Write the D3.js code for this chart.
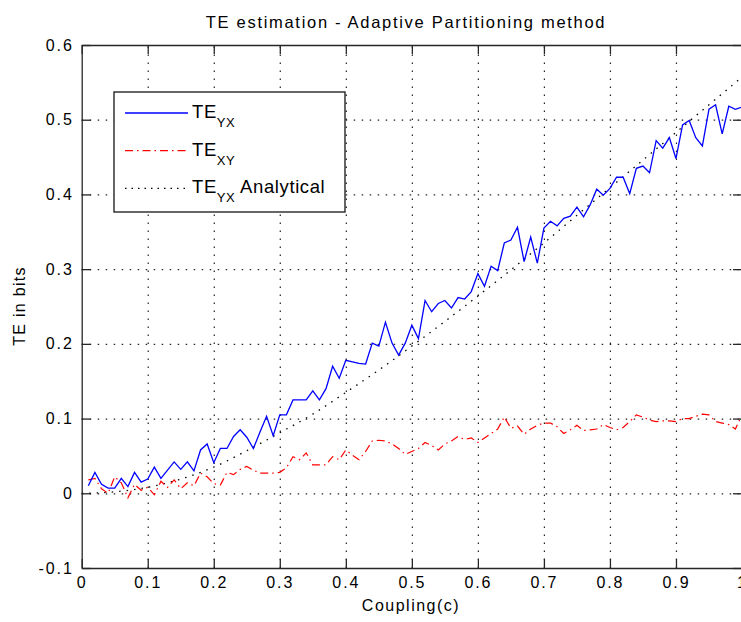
<!DOCTYPE html>
<html>
<head>
<meta charset="utf-8">
<script src="https://cdn.jsdelivr.net/npm/d3@7"></script>
<style>
  body { margin: 0; background: #fff; }
  svg { display: block; font-family: "Liberation Sans", Arial, sans-serif; }
  .tick text { font-size: 16px; letter-spacing: 1.9px; fill: #000; }
  .axis path, .axis line { stroke: #262626; stroke-width: 1.3; }
  .grid line { stroke: #222; stroke-width: 1.2; stroke-dasharray: 1.5 6.5; }
  .grid path { display: none; }
</style>
</head>
<body>
<script>
// data
const coupling = [0.01,0.02,0.03,0.04,0.05,0.06,0.07,0.08,0.09,0.10,
  0.11,0.12,0.13,0.14,0.15,0.16,0.17,0.18,0.19,0.20,
  0.21,0.22,0.23,0.24,0.25,0.26,0.27,0.28,0.29,0.30,
  0.31,0.32,0.33,0.34,0.35,0.36,0.37,0.38,0.39,0.40,
  0.41,0.42,0.43,0.44,0.45,0.46,0.47,0.48,0.49,0.50,
  0.51,0.52,0.53,0.54,0.55,0.56,0.57,0.58,0.59,0.60,
  0.61,0.62,0.63,0.64,0.65,0.66,0.67,0.68,0.69,0.70,
  0.71,0.72,0.73,0.74,0.75,0.76,0.77,0.78,0.79,0.80,
  0.81,0.82,0.83,0.84,0.85,0.86,0.87,0.88,0.89,0.90,
  0.91,0.92,0.93,0.94,0.95,0.96,0.97,0.98,0.99,1.00];

const teYX = [0.010,0.028,0.012,0.007,0.007,0.020,0.009,0.028,0.015,0.019,
  0.035,0.020,0.031,0.042,0.032,0.042,0.030,0.058,0.066,0.041,
  0.060,0.060,0.076,0.085,0.075,0.060,0.082,0.103,0.077,0.105,
  0.105,0.125,0.125,0.125,0.137,0.125,0.140,0.170,0.154,0.178,
  0.176,0.174,0.173,0.201,0.197,0.229,0.201,0.185,0.201,0.225,
  0.207,0.258,0.243,0.254,0.258,0.248,0.262,0.260,0.270,0.294,
  0.277,0.304,0.298,0.335,0.339,0.356,0.310,0.343,0.308,0.355,
  0.364,0.358,0.368,0.371,0.383,0.370,0.386,0.407,0.399,0.408,
  0.423,0.423,0.401,0.435,0.438,0.429,0.472,0.462,0.476,0.448,
  0.493,0.499,0.476,0.465,0.514,0.520,0.481,0.518,0.514,0.517];

const teXY = [0.018,0.020,0.006,0.000,0.022,0.014,-0.006,0.012,0.004,0.008,
  -0.002,0.016,0.008,0.018,0.006,0.014,0.010,0.027,0.022,0.013,
  0.011,0.028,0.025,0.032,0.036,0.031,0.027,0.027,0.027,0.028,
  0.034,0.049,0.045,0.054,0.038,0.038,0.038,0.049,0.045,0.058,
  0.051,0.045,0.056,0.070,0.071,0.070,0.066,0.060,0.052,0.056,
  0.060,0.068,0.064,0.058,0.066,0.070,0.076,0.072,0.074,0.068,
  0.074,0.080,0.086,0.102,0.087,0.090,0.079,0.086,0.091,0.094,
  0.094,0.089,0.080,0.085,0.091,0.084,0.085,0.086,0.092,0.088,
  0.085,0.088,0.096,0.105,0.102,0.098,0.096,0.097,0.097,0.096,
  0.100,0.100,0.103,0.106,0.105,0.096,0.094,0.092,0.086,0.105];

const analyticC = [0,0.05,0.10,0.15,0.20,0.25,0.30,0.35,0.40,0.45,0.50,
  0.55,0.60,0.65,0.70,0.75,0.80,0.85,0.90,0.95,1.00];
const analyticTE = [0,0.002,0.008,0.019,0.035,0.057,0.081,0.106,0.135,0.165,0.197,
  0.230,0.264,0.299,0.335,0.372,0.409,0.446,0.483,0.520,0.557];

const xTicks = [0,0.1,0.2,0.3,0.4,0.5,0.6,0.7,0.8,0.9,1];
const xTickLabels = ["0","0.1","0.2","0.3","0.4","0.5","0.6","0.7","0.8","0.9","1"];
const yTicks = [-0.1,0,0.1,0.2,0.3,0.4,0.5,0.6];
const yTickLabels = ["-0.1","0","0.1","0.2","0.3","0.4","0.5","0.6"];

const w = 741, h = 622;
const padL = 81.7, padT = 45, plotR = 742, plotB = 568;

const svg = d3.select("body").append("svg")
  .attr("width", w)
  .attr("height", h);

svg.append("rect").attr("width", w).attr("height", h).attr("fill", "#fff");

const xScale = d3.scaleLinear().domain([0, 1]).range([padL, plotR]);
const yScale = d3.scaleLinear().domain([-0.1, 0.6]).range([plotB, padT]);

// grid
svg.append("g")
  .attr("class", "grid")
  .attr("transform", `translate(0, ${plotB})`)
  .call(d3.axisBottom(xScale).tickValues(xTicks.slice(1, -1)).tickSize(-(plotB - padT)).tickFormat(""));
svg.append("g")
  .attr("class", "grid")
  .attr("transform", `translate(${padL}, 0)`)
  .call(d3.axisLeft(yScale).tickValues(yTicks.slice(1, -1)).tickSize(-(plotR - padL)).tickFormat(""));

// lines
const line = d3.line().x((d) => xScale(d[0])).y((d) => yScale(d[1]));

svg.append("path")
  .datum(analyticC.map((c, i) => [c, analyticTE[i]]))
  .attr("fill", "none")
  .attr("stroke", "#000")
  .attr("stroke-width", 1.3)
  .attr("stroke-dasharray", "1.5 6")
  .attr("d", line.curve(d3.curveMonotoneX));

line.curve(d3.curveLinear);

svg.append("path")
  .datum(coupling.map((c, i) => [c, teXY[i]]))
  .attr("fill", "none")
  .attr("stroke", "#ff0000")
  .attr("stroke-width", 1.2)
  .attr("stroke-dasharray", "8 4 1.5 4")
  .attr("d", line);

svg.append("path")
  .datum(coupling.map((c, i) => [c, teYX[i]]))
  .attr("fill", "none")
  .attr("stroke", "#0000ff")
  .attr("stroke-width", 1.3)
  .attr("d", line);

// axes (MATLAB box, ticks pointing in)
const xAxis = d3.axisBottom(xScale).tickValues(xTicks)
  .tickFormat((d, i) => xTickLabels[i]).tickSize(-9).tickSizeOuter(0).tickPadding(9);
const yAxis = d3.axisLeft(yScale).tickValues(yTicks)
  .tickFormat((d, i) => yTickLabels[i]).tickSize(-9).tickSizeOuter(0).tickPadding(8);

svg.append("g").attr("class", "axis")
  .attr("transform", `translate(0, ${plotB})`).call(xAxis);
svg.append("g").attr("class", "axis")
  .attr("transform", `translate(${padL}, 0)`).call(yAxis);
svg.append("g").attr("class", "axis")
  .attr("transform", `translate(0, ${padT})`)
  .call(d3.axisTop(xScale).tickValues(xTicks).tickSize(-9).tickSizeOuter(0).tickFormat(""));
svg.append("g").attr("class", "axis")
  .attr("transform", `translate(${plotR}, 0)`)
  .call(d3.axisRight(yScale).tickValues(yTicks).tickSize(-9).tickSizeOuter(0).tickFormat(""));

svg.selectAll(".axis").attr("font-family", null).attr("font-size", null);

// title and axis labels
svg.append("text")
  .attr("x", 406).attr("y", 28)
  .attr("text-anchor", "middle")
  .attr("font-size", 16.5).attr("letter-spacing", 1.7)
  .text("TE estimation - Adaptive Partitioning method");

svg.append("text")
  .attr("x", 411).attr("y", 611)
  .attr("text-anchor", "middle")
  .attr("font-size", 16).attr("letter-spacing", 1.5)
  .text("Coupling(c)");

svg.append("text")
  .attr("transform", "translate(25, 306) rotate(-90)")
  .attr("text-anchor", "middle")
  .attr("font-size", 16).attr("letter-spacing", 1.3)
  .text("TE in bits");

// legend
const legendSub = ["YX", "XY", "YX"];
const legendTail = ["", "", " Analytical"];
const legendStroke = ["#0000ff", "#ff0000", "#000"];
const legendDash = [null, "8 4 1.5 4", "1.5 5"];

const legend = svg.append("g");
legend.append("rect")
  .attr("x", 114).attr("y", 92)
  .attr("width", 231).attr("height", 120)
  .attr("fill", "#fff")
  .attr("stroke", "#262626")
  .attr("stroke-width", 1.4);

legendSub.forEach((sub, i) => {
  const y = 113 + i * 37.7;
  legend.append("line")
    .attr("x1", 125).attr("x2", 188)
    .attr("y1", y).attr("y2", y)
    .attr("stroke", legendStroke[i])
    .attr("stroke-width", 1.3)
    .attr("stroke-dasharray", legendDash[i]);
  const t = legend.append("text")
    .attr("x", 192).attr("y", y + 5)
    .attr("font-size", 18.5).attr("letter-spacing", 0.6);
  t.append("tspan").text("TE");
  t.append("tspan").attr("font-size", 13).attr("dy", 9).text(sub);
  if (legendTail[i]) {
    t.append("tspan").attr("dy", -9).text(legendTail[i]);
  }
});
</script>
</body>
</html>
